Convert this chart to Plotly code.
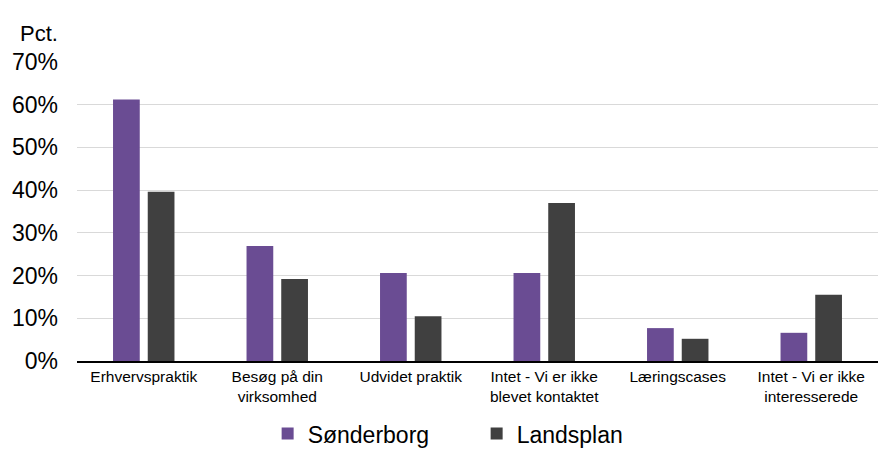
import plotly.graph_objects as go

categories = ["Erhvervspraktik", "Besøg på din<br>virksomhed", "Udvidet praktik",
              "Intet - Vi er ikke<br>blevet kontaktet", "Læringscases",
              "Intet - Vi er ikke<br>interesserede"]
sonderborg = [0.612, 0.269, 0.206, 0.206, 0.077, 0.066]
landsplan = [0.396, 0.192, 0.105, 0.370, 0.052, 0.155]
tick_vals = [0, 0.1, 0.2, 0.3, 0.4, 0.5, 0.6, 0.7]
tick_text = ["0%", "10%", "20%", "30%", "40%", "50%", "60%", "70%"]

fig = go.Figure()
fig.add_trace(go.Bar(x=categories, y=sonderborg, name="Sønderborg",
                     marker=dict(color="#6A4C93", line=dict(width=0))))
fig.add_trace(go.Bar(x=categories, y=landsplan, name="Landsplan",
                     marker=dict(color="#404040", line=dict(width=0))))

fig.update_layout(
    width=880, height=450,
    margin=dict(l=77, r=2, t=62, b=89, autoexpand=False),
    plot_bgcolor="white", paper_bgcolor="white",
    font=dict(family="Liberation Sans, Arial, sans-serif", color="#000000"),
    barmode="group", bargap=0.48, bargroupgap=0.23,
    showlegend=True,
    legend=dict(orientation="h", x=0.238, xanchor="left", y=-0.243, yanchor="middle",
                font=dict(size=23), itemwidth=30, traceorder="normal",
                entrywidth=164, entrywidthmode="pixels"),
    xaxis=dict(showgrid=False, showline=True, linecolor="#000000", linewidth=2,
               ticks="", tickfont=dict(size=15.5), automargin=False),
    yaxis=dict(range=[0, 0.7], tickvals=tick_vals, ticktext=tick_text,
               showgrid=True, gridcolor="#D9D9D9", gridwidth=1,
               zeroline=False, showline=False, ticks="",
               ticklabelstandoff=18,
               tickfont=dict(size=23), automargin=False),
)
fig.add_annotation(text="Pct.", xref="paper", yref="paper", x=-0.074, y=1.095,
                   xanchor="left", yanchor="middle", showarrow=False,
                   font=dict(size=22))
fig.write_html("out.html", config={"displayModeBar": False},
               post_script="document.body.style.margin='0';")
